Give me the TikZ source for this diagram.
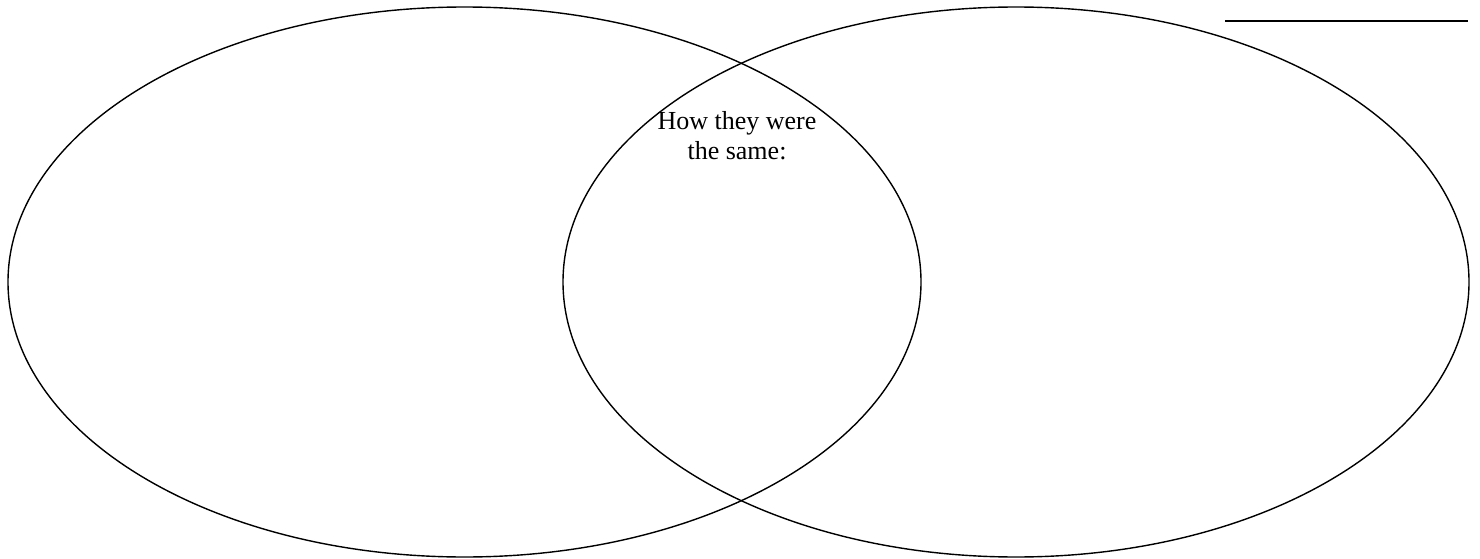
\documentclass[tikz,border=0pt]{standalone}
\usepackage{fontspec}
\setmainfont{Liberation Serif}
\begin{document}
\begin{tikzpicture}[x=1pt,y=-1pt,
  venn/.style={draw=black,line width=1.4pt},
  rule/.style={draw=black,line width=1.3pt},
  label/.style={align=center,font=\fontsize{26}{30}\selectfont,inner sep=0pt}]
\useasboundingbox (0,0) rectangle (1480,559);
\draw[venn] (464.5,282) ellipse [x radius=456.5, y radius=275];
\draw[venn] (1016,282) ellipse [x radius=453, y radius=275];
\coordinate (ruleA) at (1225,21);
\coordinate (ruleB) at (1468,21);
\draw[rule] (ruleA) -- (ruleB);
\node[label,anchor=base] (same) at (737,159) {How they were\\the same:};
\end{tikzpicture}
\end{document}
